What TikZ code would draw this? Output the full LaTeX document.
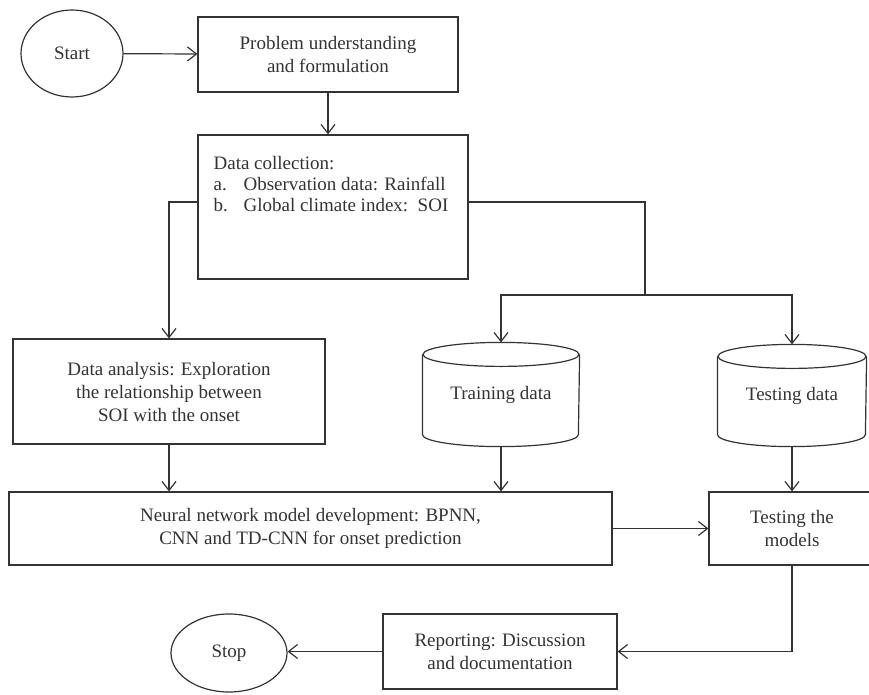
\documentclass[tikz,border=0pt]{standalone}
\usepackage{fontspec}
\setmainfont{Liberation Serif}
\usetikzlibrary{shapes.geometric,arrows.meta}

\begin{document}
\begin{tikzpicture}[x=1pt,y=-1pt,black!80,line width=1.2pt,
        font=\fontsize{19}{23}\selectfont,
        box/.style={draw,rectangle,align=center,inner sep=0pt},
        term/.style={draw,ellipse,inner sep=0pt},
        flow/.style={-{Straight Barb[length=9pt,width=14pt]}}]
        \useasboundingbox (0,0) rectangle (869,695);
        \node[term,minimum width=102pt,minimum height=87pt] (start) at (72,53.5) {Start};
        \node[box,minimum width=260pt,minimum height=75pt] (prob) at (328,54.5) {Problem understanding\\and formulation};
        \node[box,minimum width=270pt,minimum height=144pt] (coll) at (333,207) {};
        \node[align=left,anchor=north west,inner sep=0pt,font=\fontsize{19}{21}\selectfont] (colltxt) at (213,156)
            {Data collection:\\\makebox[30pt][l]{a.}Observation data: Rainfall\\\makebox[30pt][l]{b.}Global climate index:\ \ SOI};
        \node[box,minimum width=312pt,minimum height=105pt] (anal) at (169,391.5) {Data analysis: Exploration\\the relationship between\\SOI with the onset};
        \node[minimum width=156pt,minimum height=103pt,inner sep=0pt] (train) at (501,394.5) {Training data};
        \node[minimum width=148pt,minimum height=101pt,inner sep=0pt] (test) at (792,395.5) {Testing data};
        \node[box,minimum width=603pt,minimum height=73pt] (nn) at (310.5,528.5) {Neural network model development: BPNN,\\CNN and TD-CNN for onset prediction};
        \node[box,minimum width=166pt,minimum height=73pt] (tmod) at (792,528.5) {Testing the\\models};
        \node[box,minimum width=234pt,minimum height=75pt] (rep) at (500,651.5) {Reporting: Discussion\\and documentation};
        \node[term,minimum width=116pt,minimum height=78pt] (stop) at (229,653) {Stop};

        \draw ([yshift=-12pt]train.north) ellipse [x radius=78pt,y radius=12pt];
        \draw ([yshift=-12pt]train.north west) -- ([yshift=12pt]train.south west)
            arc[start angle=180,end angle=360,x radius=78pt,y radius=12pt] -- ([yshift=-12pt]train.north east);
        \draw ([yshift=-12pt]test.north) ellipse [x radius=74pt,y radius=12pt];
        \draw ([yshift=-12pt]test.north west) -- ([yshift=12pt]test.south west)
            arc[start angle=180,end angle=360,x radius=74pt,y radius=12pt] -- ([yshift=-12pt]test.north east);

        \coordinate (split) at (645,295);
        \draw[flow] (start) -- (prob);
        \draw[flow] (prob.south) -- (prob.south |- coll.north);
        \draw[flow] ([yshift=5pt]coll.west) -| (anal.north);
        \draw ([yshift=5pt]coll.east) -| (split);
        \draw[flow] (split) -| (train.north);
        \draw[flow] (split) -| (test.north);
        \draw[flow] (anal.south) -- (anal.south |- nn.north);
        \draw[flow] (train.south) -- (train.south |- nn.north);
        \draw[flow] (test.south) -- (tmod.north);
        \draw[flow] (nn.east) -- (tmod.west);
        \draw[flow] (tmod.south) |- (rep.east);
        \draw[flow] (rep.west) -- (rep.west -| stop.east);
\end{tikzpicture}
\end{document}
